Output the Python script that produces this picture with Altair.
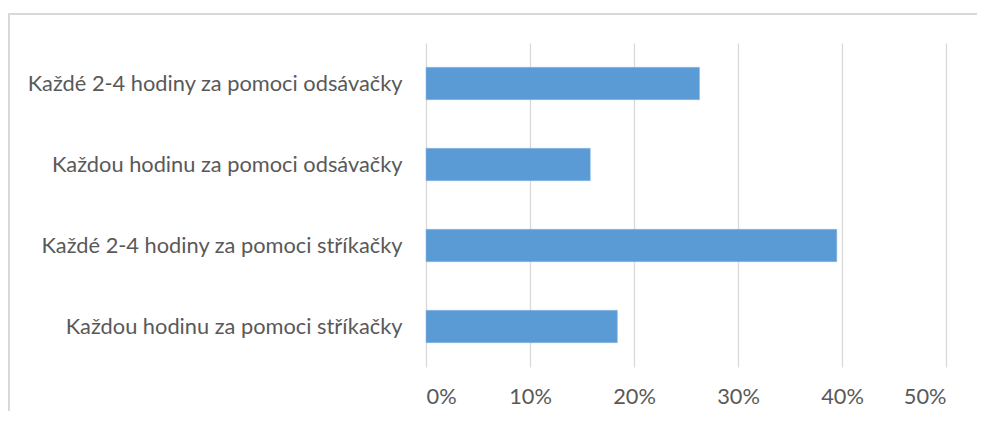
import altair as alt
import pandas as pd

categories = [
    "Každé 2-4 hodiny za pomoci odsávačky",
    "Každou hodinu za pomoci odsávačky",
    "Každé 2-4 hodiny za pomoci stříkačky",
    "Každou hodinu za pomoci stříkačky",
]
values = [0.263, 0.158, 0.395, 0.184]
x_ticks = [0, 0.1, 0.2, 0.3, 0.4, 0.5]

df = pd.DataFrame({"kategorie": categories, "podil": values})

W, H = 520, 324
FONT = "Lato"
TXT = "#595959"
GRID = "#D9D9D9"

bars = alt.Chart(df).mark_bar(color="#5B9BD5", stroke="#8DB8E2", strokeWidth=0.5).encode(
    y=alt.Y(
        "kategorie:N",
        sort=categories,
        title=None,
        scale=alt.Scale(paddingInner=0.6, paddingOuter=0.3),
        axis=alt.Axis(
            domain=False, ticks=False, tickSize=0, grid=False,
            labelFont=FONT, labelFontSize=21.8, labelColor=TXT,
            labelPadding=24, labelLimit=500,
        ),
    ),
    x=alt.X(
        "podil:Q",
        title=None,
        scale=alt.Scale(domain=[0, 0.5], nice=False),
        axis=alt.Axis(
            values=x_ticks, format=".0%", domain=False, ticks=False, tickSize=0,
            grid=True, gridColor=GRID, gridWidth=1.3,
            labelFont=FONT, labelFontSize=21.8, labelColor=TXT,
            labelPadding=19,
        ),
    ),
)

border = alt.Chart(df).mark_rect(fill=None, stroke=GRID, strokeWidth=1.3).encode(
    x=alt.value(-417), x2=alt.value(W + 200),
    y=alt.value(-29), y2=alt.value(H + 200),
)

chart = alt.layer(border, bars).properties(
    width=W, height=H,
    background="white",
    autosize=alt.AutoSizeParams(type="none"),
    padding={"left": 418, "top": 35, "right": 31, "bottom": 44},
).configure_view(strokeWidth=0, strokeOpacity=0)

chart.save("out.html", embed_options={"renderer": "svg", "actions": False})
